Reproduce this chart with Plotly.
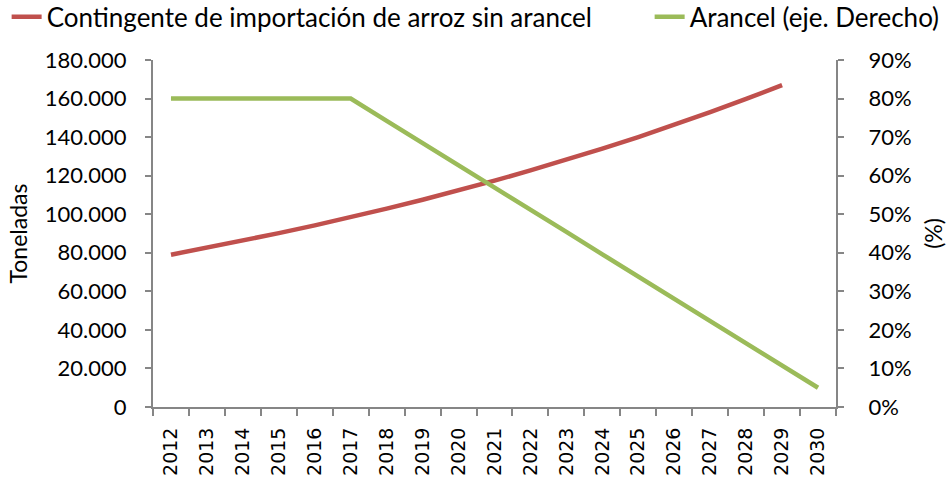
import plotly.graph_objects as go

years = [str(y) for y in range(2012, 2031)]

# Duty-free rice import quota (tonnes), 2012-2029
contingente = [79000, 82600, 86300, 90200, 94200, 98400, 102900, 107500, 112300,
               117400, 122700, 128200, 134000, 140000, 146300, 152900, 159800, 167000]

# Rice tariff (share), 2012-2030
arancel = [0.80, 0.80, 0.80, 0.80, 0.80, 0.80, 0.742, 0.685, 0.627, 0.569, 0.512,
           0.454, 0.396, 0.338, 0.281, 0.223, 0.165, 0.108, 0.050]

RED = "#C0504D"
GREEN = "#9BBB59"
AXIS = "#868686"
FONT = "Lato"

fig = go.Figure()
fig.add_trace(go.Scatter(
    x=years[:len(contingente)], y=contingente, mode="lines",
    name="Contingente de importación de arroz sin arancel",
    line=dict(color=RED, width=4.5), legend="legend",
))
fig.add_trace(go.Scatter(
    x=years, y=arancel, mode="lines", yaxis="y2",
    name="Arancel (eje. Derecho)",
    line=dict(color=GREEN, width=4.5), legend="legend2",
))

legend_common = dict(orientation="h", yref="container", y=0.965, yanchor="middle",
                     xref="container", xanchor="left", font=dict(size=26),
                     itemwidth=30, bgcolor="rgba(0,0,0,0)")

fig.update_layout(
    width=947, height=481,
    margin=dict(l=153, r=111, t=60, b=74, autoexpand=False),
    paper_bgcolor="white", plot_bgcolor="white",
    separators=",.",
    font=dict(family=FONT, size=22, color="black"),
    showlegend=True,
    legend=dict(x=0.007, **legend_common),
    legend2=dict(x=0.686, **legend_common),
    xaxis=dict(
        type="category", showgrid=False, showline=True, linecolor=AXIS, linewidth=2,
        ticks="outside", tickson="boundaries", ticklen=7, tickcolor=AXIS, tickwidth=2,
        tickangle=-90, tickfont=dict(family="DejaVu Sans", size=19),
        ticklabelstandoff=11, range=[-0.5, 18.5], automargin=False,
    ),
    yaxis=dict(
        range=[0, 180000], dtick=20000, tickformat=",.0f", showgrid=False,
        showline=True, linecolor=AXIS, linewidth=2,
        ticks="outside", ticklen=6, tickcolor=AXIS, tickwidth=2,
        ticklabelstandoff=14, automargin=False,
        title=dict(text="Toneladas", standoff=11, font=dict(size=23)),
        zeroline=False,
    ),
    yaxis2=dict(
        overlaying="y", side="right", range=[0, 0.9], dtick=0.1, tickformat=".0%",
        showgrid=False, showline=True, linecolor=AXIS, linewidth=2,
        ticks="outside", ticklen=6, tickcolor=AXIS, tickwidth=2,
        ticklabelstandoff=20, automargin=False,
        title=dict(text="(%)", standoff=16, font=dict(size=23)),
        zeroline=False,
    ),
)

fig.write_html("out.html")
